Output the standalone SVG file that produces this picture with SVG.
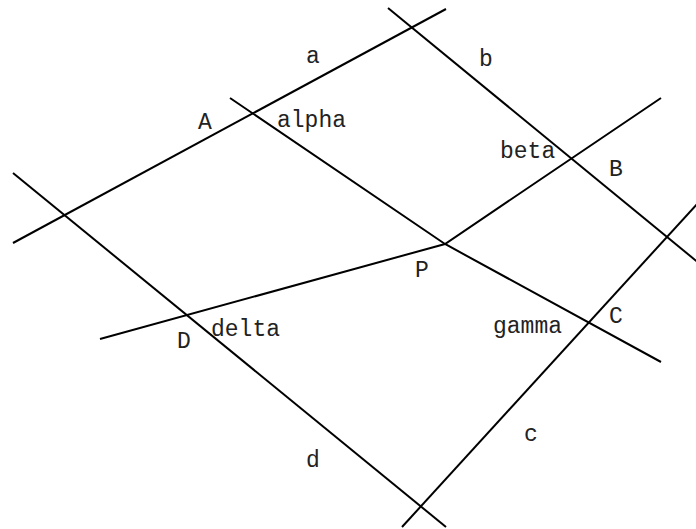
<svg xmlns="http://www.w3.org/2000/svg" width="696" height="529" viewBox="0 0 696 529">
<style>
.ln{stroke:#000;stroke-width:2;fill:none;stroke-linecap:butt}
.lbl{font-family:"Liberation Mono","Courier New",monospace;font-size:23px;fill:#222}
</style>
<rect width="696" height="529" fill="#fff"/>
<g id="lines">
<line class="ln" x1="13" y1="243" x2="446" y2="9"/>
<line class="ln" x1="388" y1="8" x2="700" y2="264"/>
<line class="ln" x1="402" y1="527" x2="698" y2="203"/>
<line class="ln" x1="13" y1="173" x2="446" y2="527"/>
<polyline class="ln" points="230,98 445,244 661,362"/>
<polyline class="ln" points="100,339 445,244 661,98"/>
</g>
<g id="labels">
<text class="lbl" x="306" y="63">a</text>
<text class="lbl" x="479" y="66">b</text>
<text class="lbl" x="524" y="441">c</text>
<text class="lbl" x="306" y="467">d</text>
<text class="lbl" x="198" y="129">A</text>
<text class="lbl" x="277" y="127">alpha</text>
<text class="lbl" x="500" y="158">beta</text>
<text class="lbl" x="609" y="176">B</text>
<text class="lbl" x="415" y="277">P</text>
<text class="lbl" x="609" y="323">C</text>
<text class="lbl" x="493" y="333">gamma</text>
<text class="lbl" x="177" y="348">D</text>
<text class="lbl" x="211" y="336">delta</text>
</g>
</svg>
